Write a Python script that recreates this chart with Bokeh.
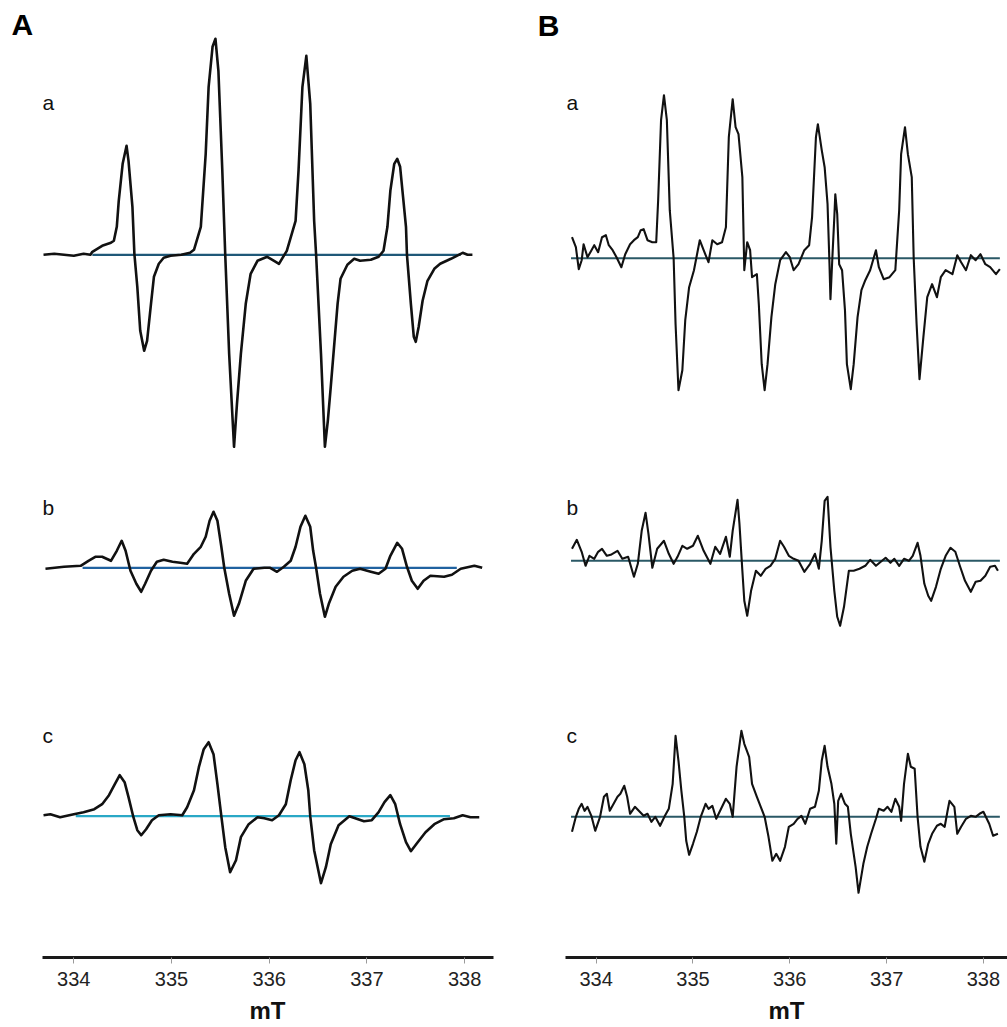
from bokeh.plotting import figure
from bokeh.layouts import row
from bokeh.models import Range1d, FixedTicker, Label
from bokeh.embed import file_html
from bokeh.resources import INLINE

# ---------------- data (field in mT, signal in arbitrary units) ----------------
tick_values = [334, 335, 336, 337, 338]
tick_labels = ["334", "335", "336", "337", "338"]

A_a_field = [333.69, 333.80, 333.90, 334.00, 334.10, 334.17, 334.19, 334.24, 334.29, 334.38, 334.41, 334.44, 334.46, 334.50, 334.54, 334.56, 334.60, 334.62, 334.65, 334.68, 334.72, 334.75, 334.79, 334.82, 334.87, 334.92, 334.99, 335.10, 335.19, 335.23, 335.30, 335.35, 335.38, 335.42, 335.45, 335.48, 335.52, 335.55, 335.59, 335.64, 335.67, 335.71, 335.76, 335.81, 335.88, 335.98, 336.05, 336.10, 336.18, 336.27, 336.30, 336.34, 336.38, 336.42, 336.46, 336.48, 336.53, 336.57, 336.60, 336.63, 336.70, 336.73, 336.80, 336.87, 336.93, 337.04, 337.12, 337.17, 337.21, 337.24, 337.28, 337.31, 337.34, 337.37, 337.40, 337.41, 337.45, 337.48, 337.50, 337.53, 337.57, 337.62, 337.69, 337.75, 337.86, 337.92, 337.98, 338.03, 338.08]
A_a_signal = [0, 1, 0, -1, 1, 0, 3, 6, 9, 12, 14, 28, 54, 91, 109, 94, 48, 1, -32, -76, -96, -86, -49, -22, -9, -3, -1, 0, 2, 5, 28, 101, 168, 208, 216, 184, 84, 0, -99, -192, -149, -99, -49, -19, -6, -2, -6, -9, 4, 34, 84, 168, 199, 151, 34, 0, -99, -192, -166, -132, -49, -24, -10, -4, -6, -5, -2, 4, 28, 64, 91, 96, 88, 58, 28, 0, -49, -82, -87, -72, -46, -26, -14, -9, -4, -1, 2, 0, 0]

A_b_field = [333.71, 333.90, 334.07, 334.15, 334.22, 334.29, 334.38, 334.44, 334.49, 334.53, 334.58, 334.64, 334.69, 334.73, 334.79, 334.85, 334.92, 335.01, 335.09, 335.16, 335.23, 335.30, 335.35, 335.39, 335.43, 335.47, 335.51, 335.54, 335.59, 335.64, 335.69, 335.76, 335.84, 335.95, 336.01, 336.08, 336.15, 336.22, 336.27, 336.32, 336.37, 336.42, 336.45, 336.48, 336.52, 336.57, 336.61, 336.68, 336.76, 336.85, 336.93, 337.04, 337.12, 337.19, 337.24, 337.31, 337.36, 337.41, 337.46, 337.52, 337.58, 337.65, 337.79, 337.87, 337.96, 338.10, 338.18]
A_b_signal = [-1, 1, 2, 7, 11, 11, 7, 17, 27, 17, -3, -16, -24, -16, -3, 6, 8, 6, 5, 4, 14, 21, 31, 47, 56, 47, 21, 0, -26, -48, -36, -13, -1, 0, 0, -4, 1, 7, 21, 41, 52, 41, 17, 0, -26, -49, -36, -19, -9, -3, -1, -4, -6, -1, 12, 25, 19, 1, -13, -21, -13, -8, -9, -7, -1, 2, 0]

A_c_field = [333.69, 333.76, 333.86, 334.00, 334.10, 334.21, 334.29, 334.36, 334.42, 334.47, 334.52, 334.56, 334.61, 334.65, 334.69, 334.74, 334.80, 334.87, 334.99, 335.11, 335.16, 335.23, 335.28, 335.33, 335.38, 335.43, 335.47, 335.51, 335.55, 335.60, 335.66, 335.71, 335.79, 335.88, 335.95, 336.03, 336.10, 336.17, 336.22, 336.27, 336.31, 336.36, 336.40, 336.42, 336.46, 336.53, 336.58, 336.63, 336.71, 336.82, 336.88, 336.97, 337.05, 337.12, 337.18, 337.24, 337.29, 337.34, 337.40, 337.45, 337.52, 337.60, 337.69, 337.79, 337.89, 337.98, 338.06, 338.15]
A_c_signal = [1, 2, -1, 2, 4, 7, 12, 21, 32, 41, 34, 19, -1, -14, -19, -13, -4, 1, 2, 1, 9, 26, 49, 67, 74, 62, 32, 0, -31, -56, -44, -21, -8, -1, -2, -4, 1, 12, 36, 56, 64, 52, 26, 0, -34, -67, -51, -28, -9, 0, -2, -5, -4, 4, 14, 21, 12, -8, -26, -35, -26, -16, -8, -3, -2, 1, -1, -1]

B_a_field = [333.75, 333.79, 333.82, 333.85, 333.87, 333.91, 333.94, 333.98, 334.02, 334.06, 334.10, 334.13, 334.17, 334.21, 334.26, 334.30, 334.35, 334.39, 334.43, 334.46, 334.49, 334.53, 334.58, 334.62, 334.64, 334.67, 334.70, 334.73, 334.76, 334.80, 334.82, 334.85, 334.89, 334.92, 334.96, 335.01, 335.07, 335.11, 335.16, 335.20, 335.25, 335.30, 335.34, 335.37, 335.41, 335.44, 335.47, 335.51, 335.53, 335.56, 335.59, 335.61, 335.66, 335.68, 335.71, 335.74, 335.77, 335.81, 335.85, 335.90, 335.96, 336.00, 336.04, 336.09, 336.15, 336.20, 336.23, 336.27, 336.29, 336.33, 336.36, 336.39, 336.41, 336.42, 336.44, 336.46, 336.47, 336.49, 336.51, 336.54, 336.57, 336.59, 336.63, 336.66, 336.70, 336.74, 336.78, 336.83, 336.89, 336.92, 336.97, 337.03, 337.09, 337.13, 337.15, 337.19, 337.22, 337.26, 337.28, 337.31, 337.34, 337.38, 337.42, 337.47, 337.52, 337.56, 337.61, 337.68, 337.73, 337.77, 337.82, 337.87, 337.92, 337.97, 338.02, 338.07, 338.13, 338.17]
B_a_signal = [21, 11, -11, -2, 14, 1, 6, 13, 6, 21, 23, 13, 8, 1, -9, 4, 14, 18, 21, 28, 29, 18, 16, 16, 58, 138, 163, 138, 48, 0, -66, -132, -112, -62, -29, -12, 18, 8, -4, 18, 14, 16, 31, 121, 159, 131, 124, 81, -12, 16, 8, -19, -16, -46, -106, -132, -106, -59, -26, -2, 6, 1, -12, -6, 8, 13, 41, 121, 134, 108, 91, 54, -6, -41, 1, 41, 64, 44, -6, -12, -52, -106, -131, -106, -59, -32, -22, -12, 8, -9, -21, -19, -12, 48, 104, 131, 104, 81, 0, -66, -121, -79, -39, -26, -39, -19, -12, -16, 3, -4, -12, 3, -2, 4, -6, -9, -16, -11]

B_b_field = [333.75, 333.80, 333.85, 333.89, 333.93, 333.98, 334.02, 334.06, 334.11, 334.15, 334.22, 334.27, 334.33, 334.39, 334.43, 334.47, 334.51, 334.54, 334.58, 334.63, 334.70, 334.75, 334.80, 334.84, 334.89, 334.94, 335.00, 335.05, 335.11, 335.18, 335.23, 335.28, 335.34, 335.38, 335.41, 335.46, 335.48, 335.51, 335.53, 335.56, 335.60, 335.65, 335.70, 335.75, 335.80, 335.85, 335.90, 335.94, 335.99, 336.04, 336.09, 336.15, 336.21, 336.26, 336.30, 336.33, 336.36, 336.39, 336.42, 336.46, 336.49, 336.52, 336.56, 336.61, 336.66, 336.72, 336.78, 336.83, 336.89, 336.94, 336.99, 337.04, 337.08, 337.13, 337.18, 337.23, 337.27, 337.32, 337.35, 337.39, 337.43, 337.46, 337.51, 337.56, 337.61, 337.66, 337.71, 337.76, 337.81, 337.87, 337.92, 337.97, 338.02, 338.07, 338.12, 338.15]
B_b_signal = [12, 21, 9, -5, 5, 2, 9, 12, 5, 6, 10, 2, 4, -16, -3, 30, 48, 27, -7, 12, 20, 7, -3, 4, 15, 12, 15, 25, 10, -3, 14, 7, 24, 4, 30, 61, 37, -10, -40, -55, -30, -10, -15, -8, -5, 2, 20, 14, 5, 2, 0, -11, -3, 7, -8, 20, 60, 64, 14, -30, -56, -65, -46, -10, -10, -8, -5, 1, -5, -1, 3, -2, 2, -5, 2, 0, 5, 18, 5, -23, -35, -40, -26, -8, 5, 13, 9, -6, -20, -31, -21, -20, -15, -6, -5, -10]

B_c_field = [333.75, 333.79, 333.82, 333.85, 333.88, 333.91, 333.95, 333.99, 334.04, 334.08, 334.11, 334.14, 334.18, 334.22, 334.25, 334.29, 334.32, 334.35, 334.40, 334.44, 334.49, 334.53, 334.57, 334.61, 334.66, 334.71, 334.75, 334.79, 334.82, 334.85, 334.88, 334.91, 334.93, 334.96, 335.00, 335.04, 335.08, 335.13, 335.16, 335.20, 335.24, 335.28, 335.34, 335.38, 335.41, 335.45, 335.50, 335.53, 335.58, 335.61, 335.66, 335.70, 335.74, 335.78, 335.82, 335.86, 335.90, 335.95, 335.99, 336.04, 336.08, 336.12, 336.16, 336.21, 336.26, 336.30, 336.33, 336.36, 336.39, 336.43, 336.46, 336.48, 336.50, 336.53, 336.57, 336.60, 336.63, 336.68, 336.71, 336.76, 336.80, 336.84, 336.89, 336.92, 336.97, 337.01, 337.05, 337.09, 337.13, 337.15, 337.18, 337.22, 337.25, 337.29, 337.32, 337.35, 337.39, 337.43, 337.47, 337.52, 337.56, 337.60, 337.63, 337.65, 337.70, 337.73, 337.77, 337.82, 337.87, 337.92, 337.96, 338.00, 338.06, 338.10, 338.15]
B_c_signal = [-15, 0, 8, 13, 6, 10, 1, -14, 0, 20, 23, 6, 13, 20, 23, 31, 20, 3, 10, 6, 1, 3, -5, 0, -9, 1, 8, 33, 81, 56, 26, 0, -24, -38, -27, -15, 0, 13, 8, 11, -2, 6, 18, 13, 0, 50, 86, 73, 60, 33, 20, 10, 0, -20, -44, -37, -44, -30, -10, -7, -2, 1, -7, 8, 10, 26, 56, 71, 50, 33, 13, -27, 16, 23, 13, 10, -17, -50, -76, -47, -30, -17, -2, 8, 6, 10, 5, 18, 10, -4, 33, 63, 50, 48, 0, -30, -45, -27, -17, -9, -7, -10, 6, 16, 10, -17, -10, -2, 1, 0, 3, 5, -7, -19, -17]

# zero lines (field extent, mT)
A_zero_start = [334.19, 334.09, 334.02]
A_zero_end = [337.96, 337.92, 337.85]
B_zero_start = [333.74, 333.74, 333.74]
B_zero_end = [338.17, 338.17, 338.17]
trace_names = ["a", "b", "c"]
panel_names = ["A", "B"]

# ---------------- layout / style ----------------
FONT = "Liberation Sans"
A_offsets = [702.7, 389.7, 141.3]
B_offsets = [699.3, 396.7, 140.7]
A_zero_colors = ["#1f5878", "#2062a0", "#2aa8c6"]
B_zero_colors = ["#2a5866", "#2a5866", "#2a5866"]
PANEL_LETTER_Y = 932


def make_panel(x_start, x_end, bounds, width, border_left, yaxis_loc):
    p = figure(width=width, height=1027,
               x_range=Range1d(x_start, x_end), y_range=Range1d(0, 957),
               output_backend="svg", toolbar_location=None,
               y_axis_location=yaxis_loc,
               min_border_left=border_left, min_border_right=0,
               min_border_top=0, min_border_bottom=70)
    p.outline_line_color = None
    p.xgrid.visible = False
    p.ygrid.visible = False
    p.background_fill_color = "white"
    p.border_fill_color = "white"
    ax = p.xaxis[0]
    ax.bounds = bounds
    ax.ticker = FixedTicker(ticks=tick_values, minor_ticks=[])
    ax.major_label_overrides = {v: s for v, s in zip(tick_values, tick_labels)}
    ax.axis_line_width = 3
    ax.axis_line_color = "#1a1a1a"
    ax.major_tick_in = 0
    ax.major_tick_out = 6
    ax.major_tick_line_color = "#9a9a9a"
    ax.major_tick_line_width = 1
    ax.minor_tick_in = 0
    ax.minor_tick_out = 0
    ax.major_label_text_font = FONT
    ax.major_label_text_font_size = "20px"
    ax.major_label_text_color = "#222222"
    ax.major_label_standoff = 8
    ax.axis_label = "mT"
    ax.axis_label_text_font = FONT
    ax.axis_label_text_font_style = "bold"
    ax.axis_label_text_font_size = "24px"
    ax.axis_label_text_color = "#111111"
    ax.axis_label_standoff = 8
    return p


pA = make_panel(333.2497, 338.7154, (333.68, 338.30), 534, 0, None)
pB = make_panel(333.6829, 338.249, (333.6829, 338.249), 473, 31, "left")

# panel B letter sits in the left border of panel B (as the only y-axis label)
yb = pB.yaxis[0]
yb.ticker = FixedTicker(ticks=[PANEL_LETTER_Y], minor_ticks=[])
yb.major_label_overrides = {PANEL_LETTER_Y: panel_names[1]}
yb.axis_line_color = None
yb.major_tick_line_color = None
yb.minor_tick_line_color = None
yb.major_tick_in = 0
yb.major_tick_out = 0
yb.major_label_standoff = 6
yb.major_label_text_font = FONT
yb.major_label_text_font_style = "bold"
yb.major_label_text_font_size = "30px"
yb.major_label_text_color = "#000000"

A_traces = [(A_a_field, A_a_signal), (A_b_field, A_b_signal), (A_c_field, A_c_signal)]
B_traces = [(B_a_field, B_a_signal), (B_b_field, B_b_signal), (B_c_field, B_c_signal)]

for i, (fx, sy) in enumerate(A_traces):
    off = A_offsets[i]
    pA.segment(x0=[A_zero_start[i]], y0=[off], x1=[A_zero_end[i]], y1=[off],
               line_color=A_zero_colors[i], line_width=2.2)
    pA.line(fx, [v + off for v in sy], line_color="#111111", line_width=2.6,
            line_join="round")

for i, (fx, sy) in enumerate(B_traces):
    off = B_offsets[i]
    pB.segment(x0=[B_zero_start[i]], y0=[off], x1=[B_zero_end[i]], y1=[off],
               line_color=B_zero_colors[i], line_width=2)
    pB.line(fx, [v + off for v in sy], line_color="#111111", line_width=2.1,
            line_join="round")

# panel A letter
pA.add_layout(Label(x=333.362, y=933, text=panel_names[0], text_font=FONT, text_font_style="bold",
                    text_font_size="30px", text_baseline="alphabetic", text_align="left",
                    text_color="#000000"))

# trace letters
A_letter_y = [855, 450, 222]
B_letter_y = [855, 450, 222]
for i, name in enumerate(trace_names):
    pA.add_layout(Label(x=333.68, y=A_letter_y[i], text=name, text_font=FONT,
                        text_font_size="21px", text_baseline="alphabetic", text_align="left",
                        text_color="#111111"))
    pB.add_layout(Label(x=333.693, y=B_letter_y[i], text=name, text_font=FONT,
                        text_font_size="21px", text_baseline="alphabetic", text_align="left",
                        text_color="#111111"))

layout = row(pA, pB)
open("out.html", "w").write(file_html(layout, INLINE))
